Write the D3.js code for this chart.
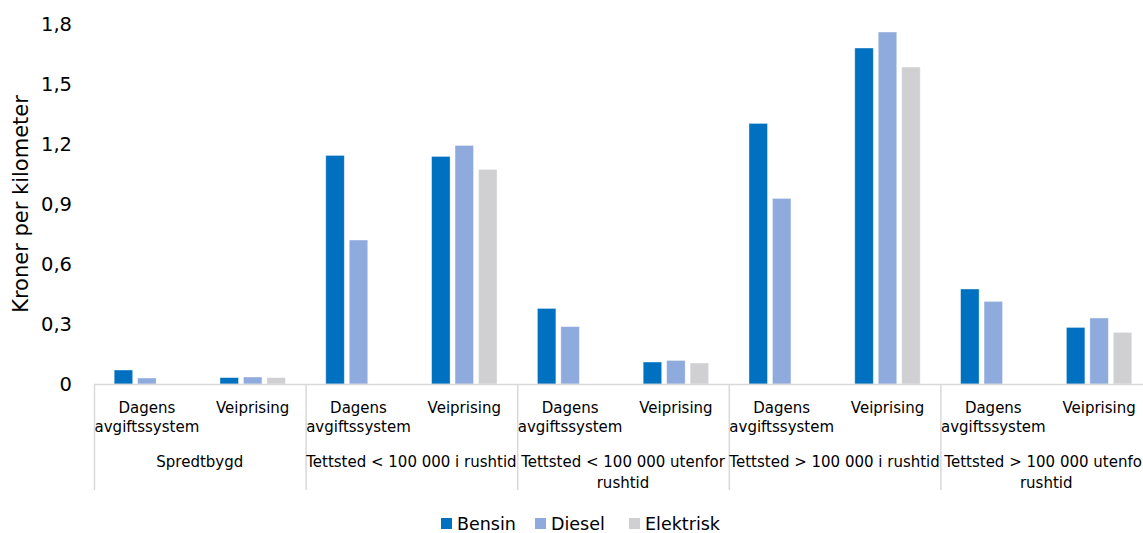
<!DOCTYPE html>
<html>
<head>
<meta charset="utf-8">
<script src="https://cdn.jsdelivr.net/npm/d3@7"></script>
<style>
  body { margin: 0; background: #fff; }
  text { font-family: "DejaVu Sans", sans-serif; fill: #000; }
</style>
</head>
<body>
<svg id="chart"></svg>
<script>
// data
var groups = [
  "Spredtbygd",
  "Tettsted < 100 000 i rushtid",
  "Tettsted < 100 000 utenfor rushtid",
  "Tettsted > 100 000 i rushtid",
  "Tettsted > 100 000 utenfor rushtid"
];
var groupLines = [
  ["Spredtbygd"],
  ["Tettsted < 100 000 i rushtid"],
  ["Tettsted < 100 000 utenfor", "rushtid"],
  ["Tettsted > 100 000 i rushtid"],
  ["Tettsted > 100 000 utenfor", "rushtid"]
];
var subcats = ["Dagens avgiftssystem", "Veiprising"];
var subLines = [["Dagens", "avgiftssystem"], ["Veiprising"]];
var series = ["Bensin", "Diesel", "Elektrisk"];
var colors = ["#0070C0", "#8FAADC", "#D0D0D2"];

// values per group: [Dagens avgiftssystem, Veiprising], null = no bar
var bensin = [[0.07, 0.032], [1.143, 1.138], [0.378, 0.11], [1.303, 1.68], [0.475, 0.283]];
var diesel = [[0.03, 0.035], [0.72, 1.193], [0.287, 0.118], [0.928, 1.76], [0.413, 0.33]];
var elektrisk = [[null, 0.032], [null, 1.073], [null, 0.105], [null, 1.585], [null, 0.258]];
var yTicks = [0, 0.3, 0.6, 0.9, 1.2, 1.5, 1.8];

(function () {
  var width = 1143, height = 533;
  var left = 94, plotTop = 24, baseline = 384;
  var groupW = 211.6;

  var svg = d3.select("#chart").attr("width", width).attr("height", height);

  var x0 = d3.scaleBand().domain(groups).range([left, left + groupW * groups.length]);
  var x1 = d3.scaleBand().domain(subcats).range([0, x0.bandwidth()]);
  var x2 = d3.scaleBand().domain(series).range([0, x1.bandwidth()])
    .paddingInner(0.21).paddingOuter(0.86);
  var y = d3.scaleLinear().domain([0, 1.8]).range([baseline, plotTop]);

  var allSeries = [bensin, diesel, elektrisk];
  var rows = [];
  groups.forEach(function (g, gi) {
    subcats.forEach(function (s, si) {
      series.forEach(function (ser, k) {
        var v = allSeries[k][gi][si];
        if (v !== null) rows.push({ g: g, s: s, ser: ser, k: k, v: v });
      });
    });
  });

  // y axis
  var yAxis = svg.append("g")
    .attr("transform", "translate(" + (left - 22) + ",0)")
    .call(d3.axisLeft(y).tickValues(yTicks).tickSize(0).tickPadding(0).tickFormat(function (d) {
      return d === 0 ? "0" : d3.format(".1f")(d).replace(".", ",");
    }));
  yAxis.select(".domain").remove();
  yAxis.selectAll("text").attr("font-size", 19.5)
    .style("font-family", "'DejaVu Sans', sans-serif").attr("fill", "#000");

  svg.append("text")
    .attr("transform", "translate(28,204) rotate(-90)")
    .attr("text-anchor", "middle")
    .attr("font-size", 21)
    .text("Kroner per kilometer");

  // bars
  svg.append("g").selectAll("rect").data(rows).enter().append("rect")
    .attr("x", function (d) { return x0(d.g) + x1(d.s) + x2(d.ser); })
    .attr("y", function (d) { return y(d.v); })
    .attr("width", x2.bandwidth())
    .attr("height", function (d) { return baseline - y(d.v); })
    .attr("fill", function (d) { return colors[d.k]; })
    .attr("stroke", "#fff")
    .attr("stroke-opacity", 0.5)
    .attr("stroke-width", 0.8);

  // category axis
  var axisCol = "#D9D9D9";
  svg.append("line")
    .attr("x1", left).attr("x2", x0.range()[1])
    .attr("y1", baseline + 0.5).attr("y2", baseline + 0.5)
    .attr("stroke", axisCol).attr("stroke-width", 1.5);

  svg.append("g").selectAll("line").data(d3.range(groups.length + 1)).enter().append("line")
    .attr("x1", function (i) { return left + i * x0.step() + 0.5; })
    .attr("x2", function (i) { return left + i * x0.step() + 0.5; })
    .attr("y1", baseline).attr("y2", 490)
    .attr("stroke", axisCol).attr("stroke-width", 1.5);

  var subG = svg.append("g");
  groups.forEach(function (g) {
    subcats.forEach(function (s, si) {
      var cx = x0(g) + x1(s) + x1.bandwidth() / 2;
      var t = subG.append("text")
        .attr("text-anchor", "middle")
        .attr("font-size", 15)
        .attr("x", cx).attr("y", 413);
      subLines[si].forEach(function (ln, li) {
        t.append("tspan").attr("x", cx).attr("dy", li === 0 ? 0 : 19).text(ln);
      });
    });
  });

  var grpG = svg.append("g");
  groups.forEach(function (g, gi) {
    var cx = x0(g) + x0.bandwidth() / 2;
    var t = grpG.append("text")
      .attr("text-anchor", "middle")
      .attr("font-size", 15)
      .attr("x", cx).attr("y", 467);
    groupLines[gi].forEach(function (ln, li) {
      t.append("tspan").attr("x", cx).attr("dy", li === 0 ? 0 : 21).text(ln);
    });
  });

  // legend
  var legX = [441, 535, 629];
  var leg = svg.append("g").selectAll("g").data(series).enter().append("g")
    .attr("transform", function (d, i) { return "translate(" + legX[i] + ",518)"; });
  leg.append("rect").attr("width", 11).attr("height", 11)
    .attr("fill", function (d, i) { return colors[i]; });
  leg.append("text").attr("x", 16).attr("y", 12).attr("font-size", 17.5)
    .text(function (d) { return d; });
})();
</script>
</body>
</html>
